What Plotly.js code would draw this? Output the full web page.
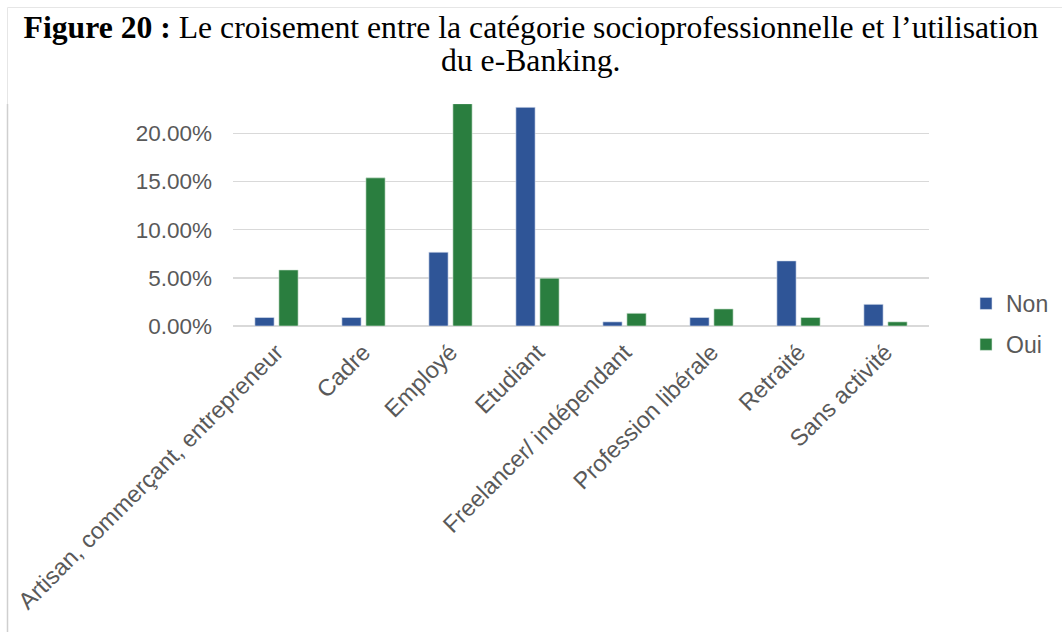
<!DOCTYPE html>
<html>
<head>
<meta charset="utf-8">
<script src="https://cdn.plot.ly/plotly-3.0.1.min.js"></script>
<style>
html,body{margin:0;padding:0;background:#fff;}
#chart{width:1062px;height:635px;}
</style>
</head>
<body>
<div id="chart"></div>
<script>
// Data
const categories = ["Artisan, commerçant, entrepreneur", "Cadre", "Employé", "Etudiant",
  "Freelancer/ indépendant", "Profession libérale", "Retraité", "Sans activité"];
const nonValues = [0.0088, 0.0088, 0.0766, 0.2270, 0.0043, 0.0088, 0.0676, 0.0225];
const ouiValues = [0.0582, 0.1538, 0.2308, 0.0496, 0.0132, 0.0177, 0.0088, 0.0043];
const yTicks = [0, 0.05, 0.10, 0.15, 0.20];
const titleLine1 = "<b>Figure 20 :</b> Le croisement entre la catégorie socioprofessionnelle et l’utilisation";
const titleLine2 = "du e-Banking.";

// pixel helpers for plot geometry
const W = 1062, H = 635;
const L = 233, R = 929, T = 104, B = 326;
const px = x => (x - L) / (R - L);
const py = y => (B - y) / (B - T);
const serif = "'Liberation Serif', 'Times New Roman', serif";

const traces = [
  {type: "bar", name: "Non", x: categories, y: nonValues, legendgroup: "a",
   marker: {color: "#2F5597", line: {color: "#dbe3f0", width: 0.6}}, hoverinfo: "x+y"},
  {type: "bar", name: "Oui", x: categories, y: ouiValues, legendgroup: "b",
   marker: {color: "#2A7E3F", line: {color: "#d8eadb", width: 0.6}}, hoverinfo: "x+y"}
];

const layout = {
  width: W, height: H,
  margin: {l: L, r: W - R, t: T, b: H - B, pad: 0, autoexpand: false},
  paper_bgcolor: "#ffffff", plot_bgcolor: "#ffffff",
  font: {family: "Arial, 'Liberation Sans', sans-serif", size: 22, color: "#595959"},
  title: {text: titleLine1, font: {family: serif, size: 31.7, color: "#000000"},
          x: 0.5, xref: "container", xanchor: "center", y: 1 - 27 / H, yref: "container", yanchor: "middle"},
  annotations: [
    {text: titleLine2, xref: "paper", yref: "paper", x: px(531), y: py(61), xanchor: "center", yanchor: "middle",
     showarrow: false, font: {family: serif, size: 31.7, color: "#000000"}}
  ],
  barmode: "group", bargap: 0.448, bargroupgap: 0.2,
  xaxis: {type: "category", tickangle: -45, showgrid: false, zeroline: false, showline: false,
          ticks: "", ticklabelstandoff: 7, tickfont: {size: 23.5, color: "#595959"}, automargin: false},
  yaxis: {range: [0, 0.2305], tickvals: yTicks, tickformat: ".2%", showgrid: true, gridcolor: "#d9d9d9",
          gridwidth: 1.5, zeroline: true, zerolinecolor: "#d9d9d9", zerolinewidth: 1.5, showline: false,
          ticks: "", ticklabelstandoff: 20, tickfont: {size: 22.5, color: "#595959"}, automargin: false},
  showlegend: true,
  legend: {x: px(966), xanchor: "left", y: py(282), yanchor: "top", traceorder: "grouped",
           tracegroupgap: 8, font: {size: 23, color: "#595959"}, bgcolor: "rgba(0,0,0,0)", itemwidth: 30},
  shapes: [
    {type: "line", xref: "paper", yref: "paper", x0: px(7.5), x1: px(1062), y0: py(7.5), y1: py(7.5),
     line: {color: "#e6e6e6", width: 1}},
    {type: "line", xref: "paper", yref: "paper", x0: px(7.5), x1: px(7.5), y0: py(7.5), y1: py(104),
     line: {color: "#e6e6e6", width: 1}},
    {type: "line", xref: "paper", yref: "paper", x0: px(7.5), x1: px(7.5), y0: py(104), y1: py(632),
     line: {color: "#cfcfcf", width: 1.5}}
  ]
};

Plotly.newPlot("chart", traces, layout, {displayModeBar: false, staticPlot: true});
</script>
</body>
</html>
